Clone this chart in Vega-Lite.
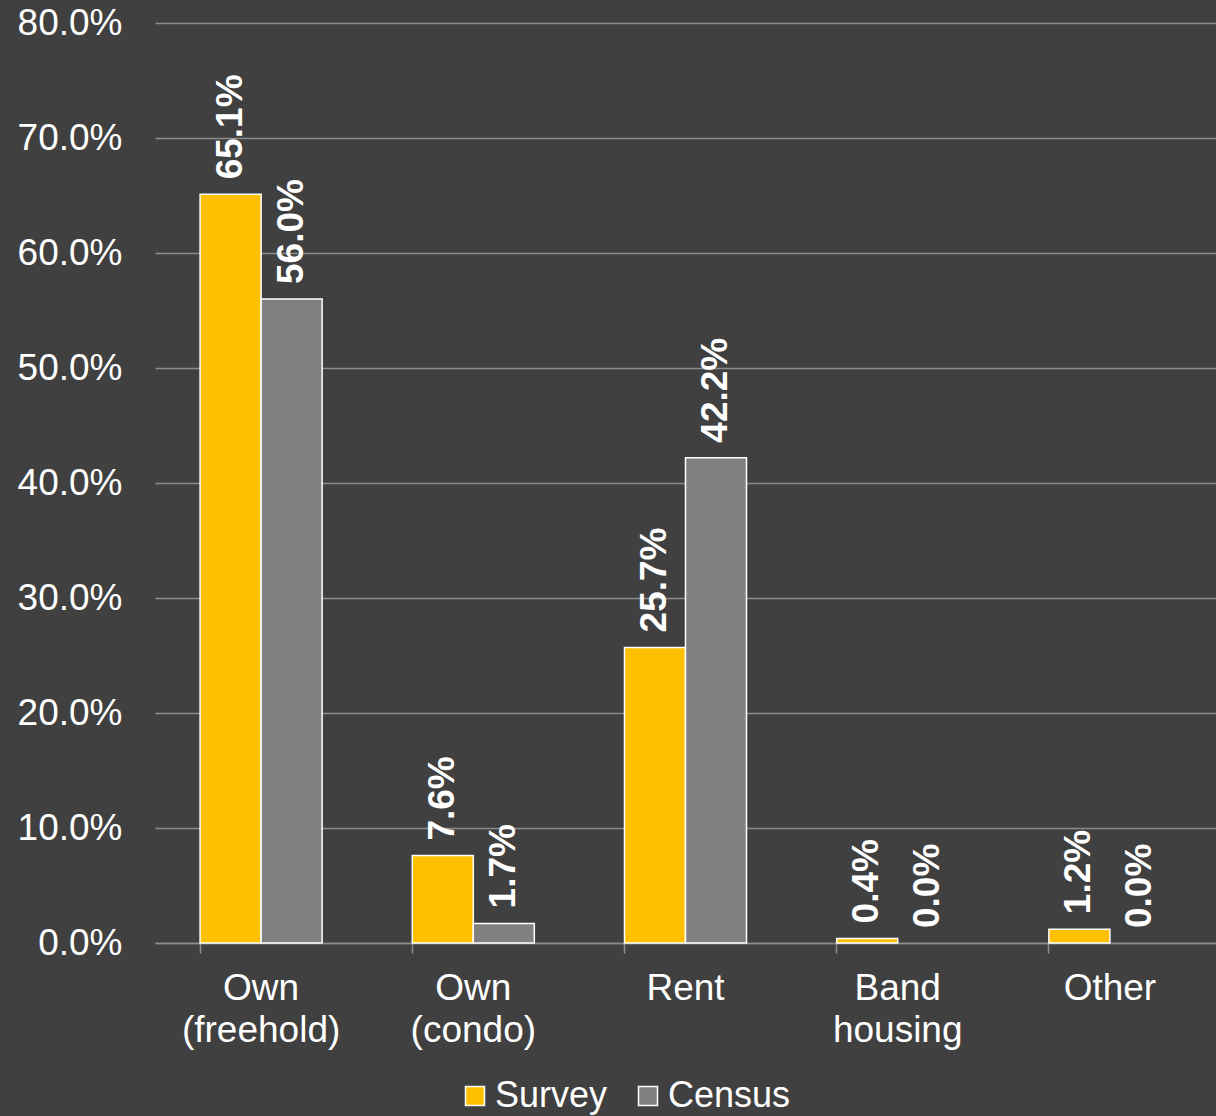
{
  "$schema": "https://vega.github.io/schema/vega-lite/v6.json",
  "autosize": {"type": "none"},
  "padding": {"left": 155, "top": 23, "right": 0, "bottom": 173},
  "width": 1061,
  "height": 920,
  "background": "#404040",
  "data": {
    "values": [
      {"tenure": "Own (freehold)", "source": "Survey", "share": 0.651},
      {"tenure": "Own (freehold)", "source": "Census", "share": 0.560},
      {"tenure": "Own (condo)", "source": "Survey", "share": 0.076},
      {"tenure": "Own (condo)", "source": "Census", "share": 0.017},
      {"tenure": "Rent", "source": "Survey", "share": 0.257},
      {"tenure": "Rent", "source": "Census", "share": 0.422},
      {"tenure": "Band housing", "source": "Survey", "share": 0.004},
      {"tenure": "Band housing", "source": "Census", "share": 0.000},
      {"tenure": "Other", "source": "Survey", "share": 0.012},
      {"tenure": "Other", "source": "Census", "share": 0.000}
    ]
  },
  "encoding": {
    "x": {
      "field": "tenure",
      "type": "nominal",
      "sort": ["Own (freehold)", "Own (condo)", "Rent", "Band housing", "Other"],
      "scale": {"paddingInner": 0.425, "paddingOuter": 0.2125},
      "axis": {
        "title": null,
        "labelAngle": 0,
        "labelExpr": "split(datum.label, ' ')",
        "labelFont": "Liberation Sans",
        "labelFontSize": 37,
        "labelColor": "#FFFFFF",
        "labelLineHeight": 42,
        "labelPadding": 17,
        "labelBaseline": "top",
        "bandPosition": 0,
        "ticks": true,
        "tickSize": 10,
        "tickColor": "#8C8C8C",
        "tickWidth": 1.5,
        "domain": true,
        "domainColor": "#8C8C8C",
        "domainWidth": 1.5,
        "grid": false
      }
    },
    "xOffset": {
      "field": "source",
      "type": "nominal",
      "sort": ["Survey", "Census"],
      "scale": {"paddingInner": 0, "paddingOuter": 0}
    },
    "y": {
      "field": "share",
      "type": "quantitative",
      "scale": {"domain": [0, 0.8], "nice": false},
      "axis": {
        "title": null,
        "values": [0, 0.1, 0.2, 0.3, 0.4, 0.5, 0.6, 0.7, 0.8],
        "format": ".1%",
        "labelFont": "Liberation Sans",
        "labelFontSize": 37,
        "labelColor": "#FFFFFF",
        "labelPadding": 33,
        "ticks": false,
        "domain": false,
        "grid": true,
        "gridColor": "#8C8C8C",
        "gridWidth": 1.5
      }
    }
  },
  "layer": [
    {
      "mark": {"type": "bar", "stroke": "#FFFFFF", "strokeWidth": 1.5},
      "encoding": {
        "strokeOpacity": {
          "condition": {"test": "datum.share == 0", "value": 0},
          "value": 1
        },
        "color": {
          "field": "source",
          "type": "nominal",
          "scale": {"domain": ["Survey", "Census"], "range": ["#FFC000", "#808080"]},
          "legend": {
            "title": null,
            "orient": "none",
            "direction": "horizontal",
            "legendX": 302,
            "legendY": 1055,
            "symbolType": "square",
            "symbolSize": 360,
            "symbolStrokeColor": "#FFFFFF",
            "symbolStrokeWidth": 1.5,
            "symbolOpacity": 1,
            "labelFont": "Liberation Sans",
            "labelFontSize": 36,
            "labelColor": "#FFFFFF",
            "labelOffset": 2,
            "columnPadding": 22
          }
        }
      }
    },
    {
      "mark": {
        "type": "text",
        "angle": 270,
        "align": "left",
        "baseline": "middle",
        "dx": 15,
        "font": "Liberation Sans",
        "fontSize": 37,
        "fontWeight": "bold",
        "color": "#FFFFFF"
      },
      "encoding": {
        "text": {"field": "share", "type": "quantitative", "format": ".1%"}
      }
    }
  ],
  "config": {
    "view": {"stroke": null}
  }
}
